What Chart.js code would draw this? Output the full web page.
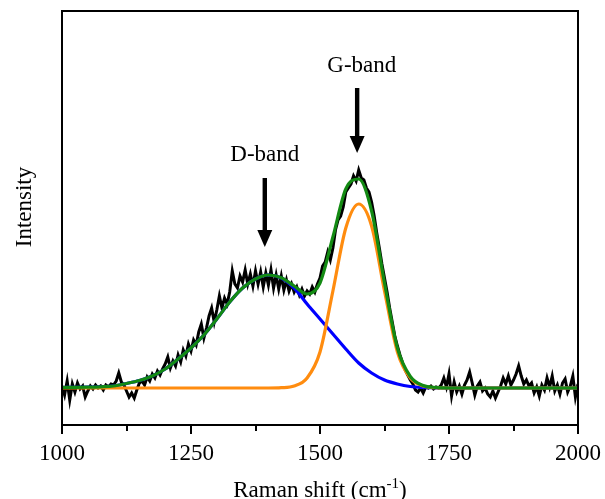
<!DOCTYPE html>
<html><head><meta charset="utf-8">
<script src="https://cdn.jsdelivr.net/npm/chart.js@4.4.1/dist/chart.umd.min.js"></script>
<style>html,body{margin:0;padding:0;background:#fff}#wrap{width:605px;height:499px}</style>
</head><body><div id="wrap"><canvas id="c" width="605" height="499"></canvas></div>
<script>
// Raman shift positions of the measured spectrum (cm-1)
const shift = [
1000,1005,1010,1015,1020,1025,1030,1035,1040,1045,
1050,1055,1060,1065,1070,1075,1080,1085,1090,1095,
1100,1105,1110,1115,1120,1125,1130,1135,1140,1145,
1150,1155,1160,1165,1170,1175,1180,1185,1190,1195,
1200,1205,1210,1215,1220,1225,1230,1235,1240,1245,
1250,1255,1260,1265,1270,1275,1280,1285,1290,1295,
1300,1305,1310,1315,1320,1325,1330,1335,1340,1345,
1350,1355,1360,1365,1370,1375,1380,1385,1390,1395,
1400,1405,1410,1415,1420,1425,1430,1435,1440,1445,
1450,1455,1460,1465,1470,1475,1480,1485,1490,1495,
1500,1505,1510,1515,1520,1525,1530,1535,1540,1545,
1550,1555,1560,1565,1570,1575,1580,1585,1590,1595,
1600,1605,1610,1615,1620,1625,1630,1635,1640,1645,
1650,1655,1660,1665,1670,1675,1680,1685,1690,1695,
1700,1705,1710,1715,1720,1725,1730,1735,1740,1745,
1750,1755,1760,1765,1770,1775,1780,1785,1790,1795,
1800,1805,1810,1815,1820,1825,1830,1835,1840,1845,
1850,1855,1860,1865,1870,1875,1880,1885,1890,1895,
1900,1905,1910,1915,1920,1925,1930,1935,1940,1945,
1950,1955,1960,1965,1970,1975,1980,1985,1990,1995,
2000];
// measured intensity (arbitrary units, baseline = 0)
const measured = [
2,-7,7,-12,4,-4,5,-1,2,-9,
-3,2,-1,3,0,2,-2,3,1,4,
3,7,15,6,3,-3,-9,-5,-10,-2,
5,7,3,11,7,14,10,17,13,19,
24,31,20,27,22,33,26,38,32,44,
37,48,43,56,64,50,60,72,80,66,
78,92,80,90,84,96,117,104,100,112,
106,118,104,114,102,117,104,116,101,115,
103,118,100,113,99,112,98,108,97,104,
96,101,93,99,92,97,94,101,96,104,
110,122,126,136,128,140,158,168,172,181,
196,200,204,212,207,218,210,208,200,196,
186,172,155,140,124,110,96,80,66,52,
42,33,25,18,13,8,4,-2,-4,0,
-5,1,0,2,-1,1,0,3,10,1,
14,-8,6,-4,2,-6,3,8,16,5,
-7,2,6,-3,0,-6,-9,-3,-10,-4,
2,10,4,12,3,8,14,22,12,4,
8,2,5,-5,1,-8,3,-2,10,1,
12,-3,3,-6,5,9,-4,2,12,-9,
4];
// fitted curves
const fitShift = [1000,1025,1050,1075,1100,1125,1150,1175,1200,1225,1250,1275,1300,1325,1350,1375,1400,1425,1450,1475,1500,1525,1550,1575,1600,1625,1650,1675,1700,1725,1750,1775,1800,1825,1850,1875,1900,1925,1950,1975,2000];
const dBandFit = [0.5,0.6,0.8,1.2,2,4.5,7.5,12,19,29,40,53,69,86,100,109,113,110,100,84,69,54,39,25,15,8,4,1.5,0.5,0.2,0,0,0,0,0,0,0,0,0,0,0];
const gBandFit = [0,0,0,0,0,0,0,0,0,0,0,0,0,0,0,0,0,0.3,2,10,36,97,160,184,162,97,36,10,2,0.3,0,0,0,0,0,0,0,0,0,0,0];
const totalFit = [0.5,0.6,0.8,1.2,2,4.5,7.5,12,19,29,40,53,69,86,100,109,113,110.3,102,94,105,151,199,209,177,105,40,11.5,2.5,0.5,0,0,0,0,0,0,0,0,0,0,0];
// axis ticks
const xTicks = [1000,1250,1500,1750,2000];
const xMinorTicks = [1125,1375,1625,1875];
// band annotations (data coordinates)
const bandLabels = ['D-band','G-band'];
const bandLabelShift = [1393,1581];
const bandLabelValue = [227,316];
const arrowShift = [1393,1572];
const arrowFrom = [210,300];
const arrowTo = [141,235];

const FONT = '"Liberation Serif","Times New Roman",serif';
const pts = (xs, ys) => xs.map((x,i)=>({x:x, y:ys[i]}));

const decor = {
  id:'decor',
  afterDraw(chart){
    const ctx = chart.ctx, a = chart.chartArea, xs = chart.scales.x, ys = chart.scales.y;
    ctx.save();
    ctx.strokeStyle = '#000'; ctx.fillStyle = '#000';
    ctx.lineWidth = 2;
    ctx.strokeRect(a.left, a.top, a.right - a.left, a.bottom - a.top);
    ctx.beginPath();
    xTicks.forEach(v=>{ const p = Math.round(xs.getPixelForValue(v)); ctx.moveTo(p, a.bottom); ctx.lineTo(p, a.bottom + 9); });
    xMinorTicks.forEach(v=>{ const p = Math.round(xs.getPixelForValue(v)); ctx.moveTo(p, a.bottom); ctx.lineTo(p, a.bottom + 6); });
    ctx.stroke();
    // band labels
    ctx.font = '23px ' + FONT;
    ctx.textAlign = 'center'; ctx.textBaseline = 'alphabetic';
    bandLabels.forEach((t,i)=>{ ctx.fillText(t, xs.getPixelForValue(bandLabelShift[i]), ys.getPixelForValue(bandLabelValue[i])); });
    // arrows
    arrowShift.forEach((s,i)=>{
      const x = xs.getPixelForValue(s), y0 = ys.getPixelForValue(arrowFrom[i]), y1 = ys.getPixelForValue(arrowTo[i]);
      const hl = 17, hw = 7.5;
      ctx.fillRect(x - 2.2, y0, 4.4, (y1 - hl) - y0 + 1);
      ctx.beginPath(); ctx.moveTo(x - hw, y1 - hl); ctx.lineTo(x + hw, y1 - hl); ctx.lineTo(x, y1); ctx.closePath(); ctx.fill();
    });
    // x title with superscript
    const cx = (a.left + a.right)/2, by = 497;
    const t1 = 'Raman shift (cm', t2 = '-1', t3 = ')';
    ctx.textAlign = 'left';
    ctx.font = '23px ' + FONT; const w1 = ctx.measureText(t1).width, w3 = ctx.measureText(t3).width;
    ctx.font = '15px ' + FONT; const w2 = ctx.measureText(t2).width;
    let x0 = cx - (w1 + w2 + w3)/2;
    ctx.font = '23px ' + FONT; ctx.fillText(t1, x0, by);
    ctx.font = '15px ' + FONT; ctx.fillText(t2, x0 + w1, by - 9);
    ctx.font = '23px ' + FONT; ctx.fillText(t3, x0 + w1 + w2, by);
    // y title
    ctx.translate(25, 207); ctx.rotate(-Math.PI/2);
    ctx.textAlign = 'center'; ctx.textBaseline = 'middle';
    ctx.fillText('Intensity', 0, 0);
    ctx.restore();
  }
};

new Chart(document.getElementById('c'), {
  type:'line',
  data:{ datasets:[
    {label:'Fit', data:pts(fitShift,totalFit), borderColor:'#138a13', borderWidth:3.2, pointRadius:0, cubicInterpolationMode:'monotone', order:0},
    {label:'G-band', data:pts(fitShift,gBandFit), borderColor:'#ff8c0f', borderWidth:3.2, pointRadius:0, cubicInterpolationMode:'monotone', order:1},
    {label:'D-band', data:pts(fitShift,dBandFit), borderColor:'#0000ff', borderWidth:3.2, pointRadius:0, cubicInterpolationMode:'monotone', order:2},
    {label:'Measured', data:pts(shift,measured), borderColor:'#000000', borderWidth:3, pointRadius:0, tension:0, order:3}
  ]},
  options:{
    responsive:false, animation:false, devicePixelRatio:1,
    layout:{padding:{left:62, top:11, right:27, bottom:0}},
    plugins:{legend:{display:false}, tooltip:{enabled:false}},
    scales:{
      x:{type:'linear', min:1000, max:2000,
         afterBuildTicks:s=>{ s.ticks = xTicks.map(v=>({value:v})); },
         afterFit:s=>{ s.height = 74; s.paddingLeft = 0; s.paddingRight = 0; },
         ticks:{font:{family:FONT, size:23}, color:'#000', padding:15, maxRotation:0, autoSkip:false, callback:v=>String(v)},
         grid:{display:false, drawTicks:false}, border:{display:false}},
      y:{display:false, min:-37, max:377}
    }
  },
  plugins:[decor]
});
</script></body></html>
